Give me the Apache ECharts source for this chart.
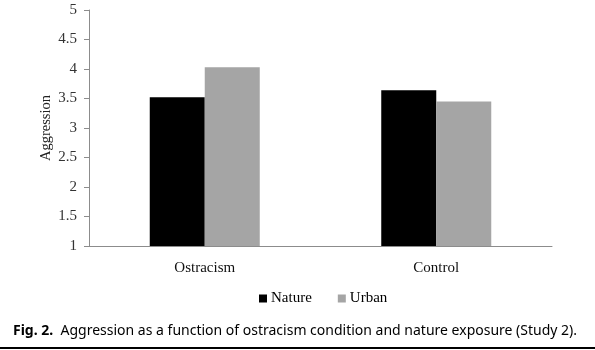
<!DOCTYPE html>
<html><head><meta charset="utf-8">
<script src="https://cdn.jsdelivr.net/npm/echarts@6/dist/echarts.min.js"></script>
<style>html,body{margin:0;padding:0;background:#fff}#c{width:595px;height:350px}</style>
</head><body><div id="c"></div>
<script>
const categories = ['Ostracism', 'Control'];
const natureValues = [3.52, 3.64];
const urbanValues = [4.03, 3.45];
const seriesNames = ['Nature', 'Urban'];
const yTicks = [1, 1.5, 2, 2.5, 3, 3.5, 4, 4.5, 5];
const yAxisTitle = 'Aggression';
const captionBold = 'Fig. 2.';
const captionText = 'Aggression as a function of ostracism condition and nature exposure (Study 2).';

const chart = echarts.init(document.getElementById('c'), null, {renderer: 'canvas'});
const serif = '"Liberation Serif", "Times New Roman", serif';
chart.setOption({
  animation: false,
  backgroundColor: '#fff',
  grid: {left: 89, right: 43, top: 10, bottom: 104, containLabel: false},
  legend: {
    data: seriesNames, top: 291, left: 259, padding: 0,
    itemWidth: 8, itemHeight: 8, itemGap: 26, icon: 'rect',
    textStyle: {fontFamily: serif, fontSize: 15, color: '#000', padding: [0,0,0,-1]}
  },
  xAxis: {
    type: 'category', data: categories,
    axisLine: {lineStyle: {color: '#8c8c8c', width: 1}},
    axisTick: {show: false},
    axisLabel: {fontFamily: serif, fontSize: 15, color: '#111', margin: 15}
  },
  yAxis: {
    type: 'value', min: 1, max: 5, interval: 0.5,
    name: yAxisTitle, nameLocation: 'middle', nameGap: 35, nameRotate: 90,
    nameMoveOverlap: false,
    nameTextStyle: {fontFamily: serif, fontSize: 14.5, color: '#222'},
    axisLine: {show: true, lineStyle: {color: '#8c8c8c', width: 1}},
    axisTick: {show: true, length: 5, lineStyle: {color: '#8c8c8c'}},
    splitLine: {show: false},
    axisLabel: {fontFamily: serif, fontSize: 15, color: '#333', margin: 12,
      formatter: v => yTicks.includes(v) ? String(v) : ''}
  },
  series: [
    {name: seriesNames[0], type: 'bar', data: natureValues, barWidth: 55, barGap: '0%',
     itemStyle: {color: '#000'}},
    {name: seriesNames[1], type: 'bar', data: urbanValues, barWidth: 55, barGap: '0%',
     itemStyle: {color: '#a5a5a5'}}
  ],
  graphic: [
    {type: 'text', left: 13, top: 324, style: {
      rich: {b: {fontFamily: '"Noto Sans", sans-serif', fontWeight: 'bold', fontSize: 14, fill: '#000'},
             n: {fontFamily: '"Noto Sans", sans-serif', fontSize: 14, fill: '#000'}},
      text: '{b|' + captionBold + '}{n|  ' + captionText + '}'
    }},
    {type: 'rect', shape: {x: 0, y: 347, width: 595, height: 2}, style: {fill: '#000'}}
  ]
});
</script></body></html>
